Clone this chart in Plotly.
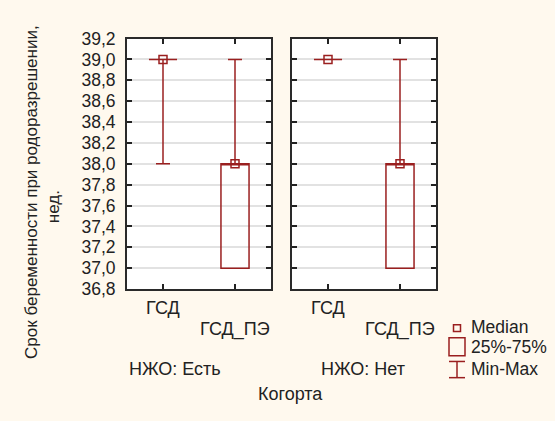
import plotly.graph_objects as go

# ---- data ----
groups = ["НЖО: Есть", "НЖО: Нет"]
categories = ["ГСД", "ГСД_ПЭ"]
median = [[39.0, 38.0], [39.0, 38.0]]
q1 = [[39.0, 37.0], [39.0, 37.0]]
q3 = [[39.0, 38.0], [39.0, 38.0]]
vmin = [[38.0, 37.0], [39.0, 37.0]]
vmax = [[39.0, 39.0], [39.0, 39.0]]
ytickvals = [36.8, 37.0, 37.2, 37.4, 37.6, 37.8, 38.0, 38.2, 38.4, 38.6, 38.8, 39.0, 39.2]
yticktext = [f"{v:.1f}".replace(".", ",") for v in ytickvals]

RED = "#9a1f1f"
BG = "#fff9ee"
W, H = 555, 421
FONT = "Liberation Sans, Arial"

def px(xp):
    return xp / W

def py(yp):
    return (H - yp) / H

fig = go.Figure()
axes = [("x", "y"), ("x2", "y2")]
for gi in range(2):
    xa, ya = axes[gi]
    fig.add_trace(go.Box(
        x=[0, 1], q1=q1[gi], median=median[gi], q3=q3[gi],
        lowerfence=vmin[gi], upperfence=vmax[gi],
        xaxis=xa, yaxis=ya,
        width=0.39, whiskerwidth=0.5,
        line=dict(color=RED, width=1.5), fillcolor="rgba(255,255,255,0)",
        marker=dict(opacity=0), boxpoints=False, showlegend=False, hoverinfo="skip",
    ))
    fig.add_trace(go.Scatter(
        x=[0, 1], y=median[gi], xaxis=xa, yaxis=ya, mode="markers",
        marker=dict(symbol="square-open", size=8, color=RED, line=dict(width=1.5, color=RED)),
        showlegend=False, hoverinfo="skip",
    ))

axis_common = dict(
    showline=True, linecolor="#2a2a2a", linewidth=2, mirror="allticks",
    ticks="inside", ticklen=5, tickcolor="#222222", tickwidth=1.5, zeroline=False,
)
ydom = [py(293), py(30)]
fig.update_layout(
    width=W, height=H, margin=dict(l=0, r=0, t=0, b=0),
    paper_bgcolor=BG, plot_bgcolor="white",
    font=dict(family=FONT, size=18, color="#222222"),
    xaxis=dict(domain=[px(127), px(271)], range=[-0.5, 1.5], tickvals=[0, 1],
               showticklabels=False, showgrid=False, anchor="y", **axis_common),
    xaxis2=dict(domain=[px(292), px(436)], range=[-0.5, 1.5], tickvals=[0, 1],
                showticklabels=False, showgrid=False, anchor="y2", **axis_common),
    yaxis=dict(domain=ydom, range=[36.8, 39.2], tickvals=ytickvals, anchor="x",
               ticktext=yticktext, showgrid=True, gridcolor="#e2e2e2", gridwidth=1.5,
               ticklabelstandoff=6, tickfont=dict(size=17.5), **axis_common),
    yaxis2=dict(domain=ydom, range=[36.8, 39.2], tickvals=ytickvals, anchor="x2",
                showticklabels=False, showgrid=True, gridcolor="#e2e2e2", gridwidth=1.5,
                **axis_common),
    showlegend=False,
)

def label(x, y, text, xref="paper", xanchor="center", angle=0):
    return dict(x=x, y=y, xref=xref, yref="paper", text=text, showarrow=False,
                xanchor=xanchor, yanchor="middle", textangle=angle)

ann = []
for xa in ["x", "x2"]:
    ann.append(label(0, py(313), categories[0], xref=xa))
    ann.append(label(1, py(335), categories[1], xref=xa))
ann.append(label(px(175), py(377), groups[0]))
ann.append(label(px(363), py(377), groups[1]))
ann.append(label(px(290), py(403), "Когорта"))
ann.append(dict(label(px(32), py(191), "Срок беременности при родоразрешении,", angle=-90), font=dict(size=17)))
ann.append(dict(label(px(53), py(207), "нед.", angle=-90), font=dict(size=17)))
for text, yp in [("Median", 333), ("25%-75%", 354), ("Min-Max", 377)]:
    ann.append(dict(label(px(470), py(yp), text, xanchor="left"), font=dict(size=17.5), borderpad=0))
fig.update_layout(annotations=ann)

shapes = [
    dict(type="rect", xref="paper", yref="paper", x0=px(453.5), x1=px(460.5), y0=py(337.5), y1=py(330.5),
         line=dict(color=RED, width=1.5)),
    dict(type="rect", xref="paper", yref="paper", x0=px(449), x1=px(465), y0=py(363), y1=py(344),
         line=dict(color=RED, width=1.5)),
    dict(type="line", xref="paper", yref="paper", x0=px(457), x1=px(457), y0=py(369), y1=py(386),
         line=dict(color=RED, width=1.5)),
    dict(type="line", xref="paper", yref="paper", x0=px(449), x1=px(465), y0=py(369), y1=py(369),
         line=dict(color=RED, width=1.5)),
    dict(type="line", xref="paper", yref="paper", x0=px(449), x1=px(465), y0=py(386), y1=py(386),
         line=dict(color=RED, width=1.5)),
]
fig.update_layout(shapes=shapes)

fig.write_html("out.html")
